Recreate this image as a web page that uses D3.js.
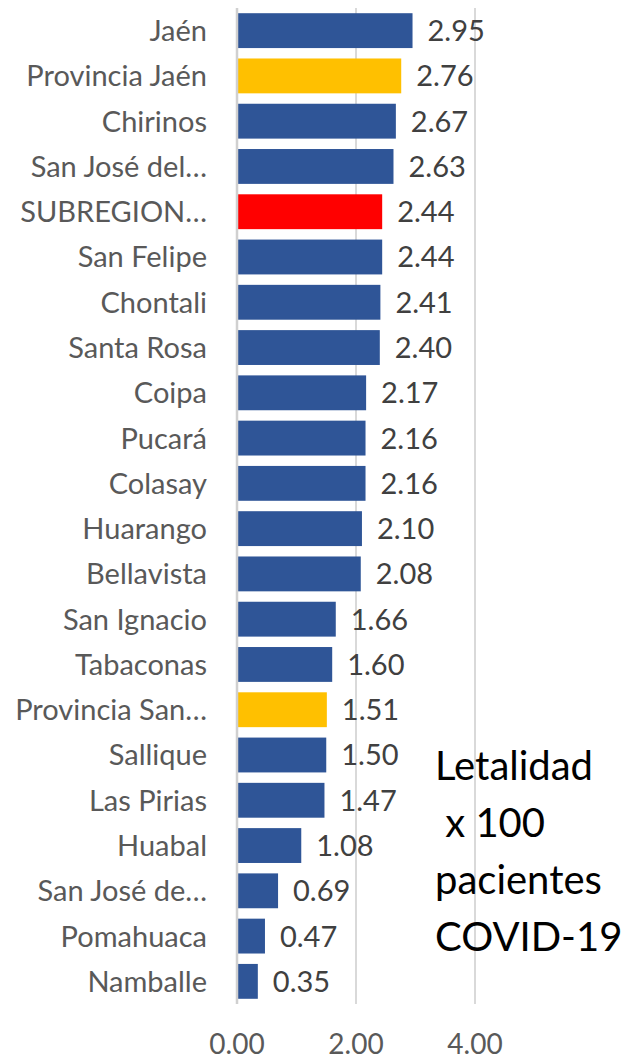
<!DOCTYPE html>
<html>
<head>
<meta charset="utf-8">
<script src="https://cdn.jsdelivr.net/npm/d3@7"></script>
<style>
  body { margin: 0; background: #fff; }
  text { font-family: Lato, "Open Sans", sans-serif; }
</style>
</head>
<body>
<div id="chart"></div>
<script>
// categories top to bottom, as shown
var categories = ["Jaén", "Provincia Jaén", "Chirinos", "San José del…", "SUBREGION…",
    "San Felipe", "Chontali", "Santa Rosa", "Coipa", "Pucará", "Colasay", "Huarango",
    "Bellavista", "San Ignacio", "Tabaconas", "Provincia San…", "Sallique", "Las Pirias",
    "Huabal", "San José de…", "Pomahuaca", "Namballe"];
var values = [2.95, 2.76, 2.67, 2.63, 2.44, 2.44, 2.41, 2.40, 2.17, 2.16, 2.16, 2.10,
    2.08, 1.66, 1.60, 1.51, 1.50, 1.47, 1.08, 0.69, 0.47, 0.35];
// bar type: 0 district, 1 province, 2 subregion
var kinds = [0, 1, 0, 0, 2, 0, 0, 0, 0, 0, 0, 0, 0, 0, 0, 1, 0, 0, 0, 0, 0, 0];
var xTicks = [0, 2, 4];
var noteLines = ["Letalidad", " x 100", "pacientes", "COVID-19"];

var W = 625, H = 1060;
var plotLeft = 237, plotRight = 475, plotTop = 8, plotBottom = 1004;
var colors = ["#2F5597", "#FFC000", "#FF0000"];

var svg = d3.select("#chart").append("svg")
    .attr("width", W)
    .attr("height", H);

var x = d3.scaleLinear().domain([0, 4]).range([plotLeft, plotRight]);
var y = d3.scaleBand().domain(categories).range([plotTop, plotBottom])
    .paddingInner(0.23).paddingOuter(0.115);

// gridlines
svg.selectAll("line.grid")
    .data(xTicks.slice(1))
    .enter().append("line")
    .attr("class", "grid")
    .attr("x1", function (d) { return x(d); })
    .attr("x2", function (d) { return x(d); })
    .attr("y1", plotTop)
    .attr("y2", plotBottom)
    .attr("stroke", "#d9d9d9")
    .attr("stroke-width", 2);

// bars
svg.selectAll("rect.bar")
    .data(values)
    .enter().append("rect")
    .attr("class", "bar")
    .attr("x", x(0))
    .attr("y", function (d, i) { return y(categories[i]); })
    .attr("width", function (d) { return x(d) - x(0); })
    .attr("height", y.bandwidth())
    .attr("fill", function (d, i) { return colors[kinds[i]]; });

// zero axis line
svg.append("line")
    .attr("x1", x(0)).attr("x2", x(0))
    .attr("y1", plotTop).attr("y2", plotBottom)
    .attr("stroke", "#d0d0d0")
    .attr("stroke-width", 2.5);

// value labels
svg.selectAll("text.val")
    .data(values)
    .enter().append("text")
    .attr("class", "val")
    .attr("x", function (d) { return x(d) + 15; })
    .attr("y", function (d, i) { return y(categories[i]) + y.bandwidth() / 2; })
    .attr("dy", "0.36em")
    .attr("font-size", 29)
    .attr("fill", "#404040")
    .text(d3.format(".2f"));

// category labels
svg.selectAll("text.cat")
    .data(categories)
    .enter().append("text")
    .attr("class", "cat")
    .attr("x", plotLeft - 30)
    .attr("y", function (d) { return y(d) + y.bandwidth() / 2; })
    .attr("dy", "0.36em")
    .attr("text-anchor", "end")
    .attr("font-size", 29)
    .attr("fill", "#595959")
    .text(function (d) { return d; });

// x tick labels
svg.selectAll("text.tick")
    .data(xTicks)
    .enter().append("text")
    .attr("class", "tick")
    .attr("x", function (d) { return x(d); })
    .attr("y", 1054)
    .attr("text-anchor", "middle")
    .attr("font-size", 28)
    .attr("fill", "#595959")
    .text(d3.format(".2f"));

// note
svg.selectAll("text.note")
    .data(noteLines)
    .enter().append("text")
    .attr("class", "note")
    .attr("x", 435)
    .attr("y", function (d, i) { return 780 + i * 57; })
    .attr("font-size", 40)
    .attr("fill", "#000")
    .attr("xml:space", "preserve")
    .text(function (d) { return d; });
</script>
</body>
</html>
